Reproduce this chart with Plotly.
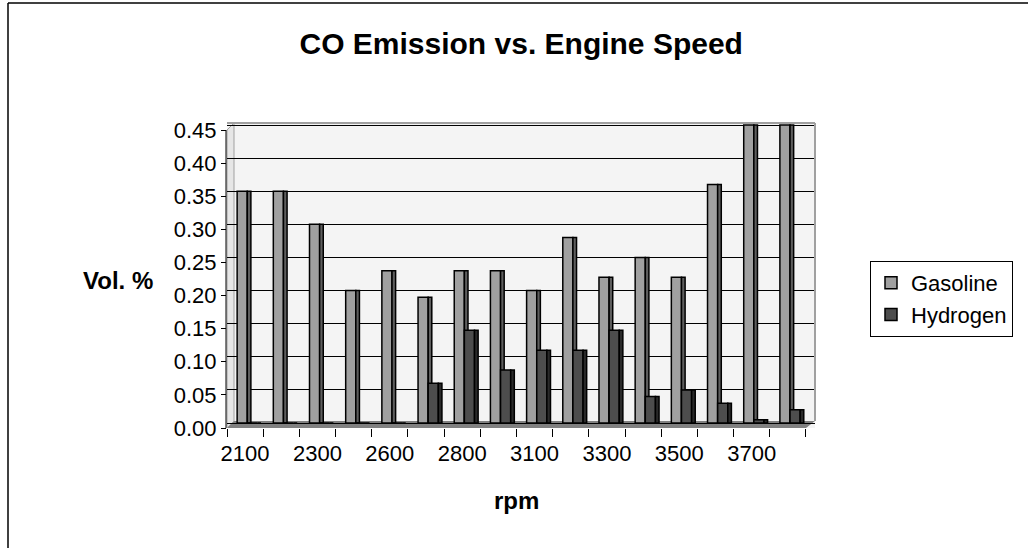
import plotly.graph_objects as go

categories = ["2100", "2200", "2300", "2400", "2600", "2700", "2800", "2900",
              "3100", "3200", "3300", "3400", "3500", "3600", "3700", "3800"]
gasoline = [0.35, 0.35, 0.30, 0.20, 0.23, 0.19, 0.23, 0.23,
            0.20, 0.28, 0.22, 0.25, 0.22, 0.36, 0.45, 0.45]
hydrogen = [0.0, 0.0, 0.0, 0.0, 0.0, 0.06, 0.14, 0.08,
            0.11, 0.11, 0.14, 0.04, 0.05, 0.03, 0.005, 0.02]
y_ticks = [0.00, 0.05, 0.10, 0.15, 0.20, 0.25, 0.30, 0.35, 0.40, 0.45]

FONT = "Liberation Sans, Arial, sans-serif"

# pixel layout of the plot area
L, R, T, B = 227, 815, 123, 428
W, H = R - L, B - T
PPU = 662.2  # pixels per unit on the value axis


def px(x):
    return (x - L) / W


def py(y):
    return (B - y) / H


fig = go.Figure()

# bar faces and dark sides (pseudo-3D)
fig.add_trace(go.Bar(x=categories, y=gasoline, name="Gasoline",
                     offset=-0.22, width=0.28,
                     marker=dict(color="#A0A0A0", line=dict(color="black", width=1.5))))
fig.add_trace(go.Bar(x=categories, y=gasoline, showlegend=False, hoverinfo="skip",
                     offset=0.06, width=0.1,
                     marker=dict(color="#5E5E5E", line=dict(color="black", width=1.5))))
fig.add_trace(go.Bar(x=categories, y=hydrogen, name="Hydrogen",
                     offset=0.06, width=0.28,
                     marker=dict(color="#4D4D4D", line=dict(color="black", width=1.5))))
fig.add_trace(go.Bar(x=categories, y=hydrogen, showlegend=False, hoverinfo="skip",
                     offset=0.34, width=0.1,
                     marker=dict(color="#2A2A2A", line=dict(color="black", width=1.5))))
# invisible carrier so the front (label) value axis is drawn
fig.add_trace(go.Scatter(x=categories, y=gasoline, xaxis="x2", yaxis="y2", mode="markers",
                         marker=dict(opacity=0), showlegend=False, hoverinfo="skip"))

ticktext = [c if i % 2 == 0 else "" for i, c in enumerate(categories)]

y0 = -(B - 423) / PPU
y1 = 0.45 + (125 - T) / PPU
shift = 5 / PPU  # front plane labels sit ~5px lower than back-wall grid

shapes = [
    # floor
    dict(type="path", xref="paper", yref="paper",
         path=f"M {px(227)} {py(428)} L {px(806)} {py(428)} L {px(815)} {py(421)} L {px(234)} {py(421)} Z",
         fillcolor="#808080", line=dict(width=0), layer="below"),
    # left side wall strip
    dict(type="path", xref="paper", yref="paper",
         path=f"M {px(227)} {py(428)} L {px(234)} {py(421)} L {px(234)} {py(123)} L {px(227)} {py(130)} Z",
         fillcolor="#E6E6E6", line=dict(color="#A0A0A0", width=1), layer="below"),
    # wall top & right edge
    dict(type="line", xref="paper", yref="paper", x0=px(227), x1=px(815), y0=py(123), y1=py(123),
         line=dict(color="#A0A0A0", width=2)),
    dict(type="line", xref="paper", yref="paper", x0=px(815), x1=px(815), y0=py(123), y1=py(421),
         line=dict(color="#A0A0A0", width=2)),
    # front y axis line
    dict(type="line", xref="paper", yref="paper", x0=px(226), x1=px(226), y0=py(130), y1=py(428),
         line=dict(color="black", width=1)),
    # chart frame
    dict(type="line", xref="paper", yref="paper", x0=px(8), x1=px(1028), y0=py(3), y1=py(3),
         line=dict(color="black", width=1.5)),
    dict(type="line", xref="paper", yref="paper", x0=px(8), x1=px(8), y0=py(3), y1=py(548),
         line=dict(color="black", width=1.5)),
]

fig.update_layout(
    width=1028, height=548,
    margin=dict(l=L, r=1028 - R, t=T, b=548 - B, pad=0),
    paper_bgcolor="white",
    plot_bgcolor="#F4F4F4",
    barmode="overlay",
    font=dict(family=FONT, size=22, color="black"),
    title=dict(text="<b>CO Emission vs. Engine Speed</b>", x=0.507, xanchor="center",
               y=1 - 43 / 548, yanchor="middle", font=dict(size=30, family=FONT)),
    xaxis=dict(type="category", categoryorder="array", categoryarray=categories,
               tickvals=categories, ticktext=ticktext, tickson="boundaries",
               ticks="outside", ticklen=8, tickcolor="black", tickwidth=1,
               tickangle=0, ticklabelstandoff=10,
               range=[-0.5, 15.75], showgrid=False, showline=False,
               tickfont=dict(size=22)),
    xaxis2=dict(overlaying="x", type="category", range=[-0.5, 15.75], visible=False),
    yaxis=dict(range=[y0, y1], tickvals=y_ticks, showticklabels=False,
               ticks="", showline=False,
               showgrid=True, gridcolor="black", gridwidth=1, zeroline=False),
    yaxis2=dict(overlaying="y", anchor="x", side="left", range=[y0 + shift, y1 + shift],
                tickvals=y_ticks, tickformat=".2f",
                ticks="outside", ticklen=5, tickcolor="black",
                showline=False, showgrid=False, zeroline=False,
                tickfont=dict(size=22)),
    legend=dict(x=px(870), y=py(299), xanchor="left", yanchor="middle",
                bordercolor="black", borderwidth=1, bgcolor="white",
                font=dict(size=22), itemwidth=30),
    shapes=shapes,
    annotations=[
        dict(text="<b>Vol. %</b>", xref="paper", yref="paper", x=px(118), y=py(280),
             showarrow=False, font=dict(size=24), xanchor="center", yanchor="middle"),
        dict(text="<b>rpm</b>", xref="paper", yref="paper", x=px(516), y=py(500),
             showarrow=False, font=dict(size=24), xanchor="center", yanchor="middle"),
    ],
)

fig.write_html("out.html")
